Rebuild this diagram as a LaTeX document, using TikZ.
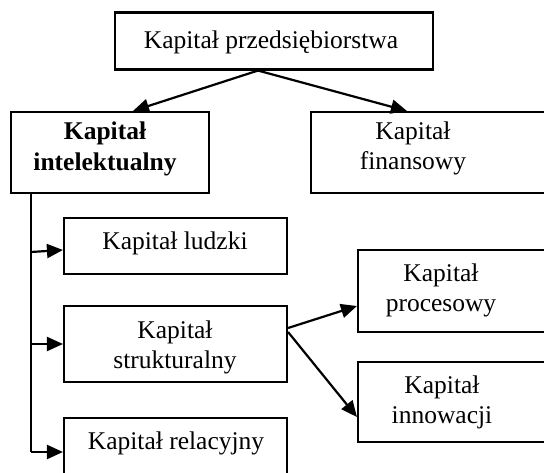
\documentclass[tikz,border=0pt]{standalone}
\usepackage{fontspec}
\setmainfont{Liberation Serif}
\usetikzlibrary{arrows.meta,calc}
\tikzset{
  box/.style={draw=black, line width=2.1pt, rectangle, inner sep=0pt},
  lbl/.style={font=\fontsize{25.5}{30}\selectfont, align=center, inner sep=0pt},
  arr/.style={line width=2.2pt, -{Triangle[length=16pt,width=14pt]}},
  ln/.style={line width=2.2pt}
}
\begin{document}
\begin{tikzpicture}[x=1pt,y=-1pt]
\clip (0,0) rectangle (544,473);
\useasboundingbox (0,0) rectangle (544,473);
\fill[white] (0,0) rectangle (544,473);
% boxes
\node[box, minimum width=318pt, minimum height=57pt] (top) at (274,41) {};
\node[box, minimum width=198pt, minimum height=81pt] (intel) at (110,152.5) {};
\node[box, minimum width=289pt, minimum height=81pt] (fin) at (455.5,152.5) {};
\node[box, minimum width=223pt, minimum height=56pt] (ludz) at (175.5,246) {};
\node[box, minimum width=223pt, minimum height=76pt] (strukt) at (175.5,344) {};
\node[box, minimum width=223pt, minimum height=82pt] (rel) at (175.5,459) {};
\node[box, minimum width=242pt, minimum height=82pt] (proc) at (479,291) {};
\node[box, minimum width=242pt, minimum height=80pt] (innow) at (479,402) {};
% labels
\node[lbl] (ttop) at (271,42) {Kapitał przedsiębiorstwa};
\node[lbl, font=\fontsize{25.5}{31}\selectfont\bfseries] (tintel) at (105,149) {Kapitał\\intelektualny};
\node[lbl] (tfin) at (413,148) {Kapitał\\finansowy};
\node[lbl] (tludz) at (175,243) {Kapitał ludzki};
\node[lbl] (tstrukt) at (175,347) {Kapitał\\strukturalny};
\node[lbl] (trel) at (176,443) {Kapitał relacyjny};
\node[lbl] (tproc) at (441,290) {Kapitał\\procesowy};
\node[lbl] (tinnow) at (442,402) {Kapitał\\innowacji};
% connectors
\draw[arr] ($(top.south)+(-16,0)$) -- ($(intel.north)+(23,0)$);
\draw[arr] ($(top.south)+(-16,0)$) -- ($(fin.north west)+(97,0)$);
\coordinate (trunk) at ($(intel.south west)+(21,0)$);
\draw[ln] (trunk) -- (trunk |- 0,452);
\draw[arr] (trunk |- 0,252) -- ($(ludz.west)+(0,4)$);
\draw[arr] (trunk |- strukt.west) -- (strukt.west);
\draw[arr] (trunk |- 0,452) -- (rel.west |- 0,452);
\draw[arr] ($(strukt.east)+(0,-16)$) -- ($(proc.west)+(0,15)$);
\draw[arr] ($(strukt.east)+(0,-12)$) -- ($(innow.west)+(0,15)$);
\end{tikzpicture}
\end{document}
